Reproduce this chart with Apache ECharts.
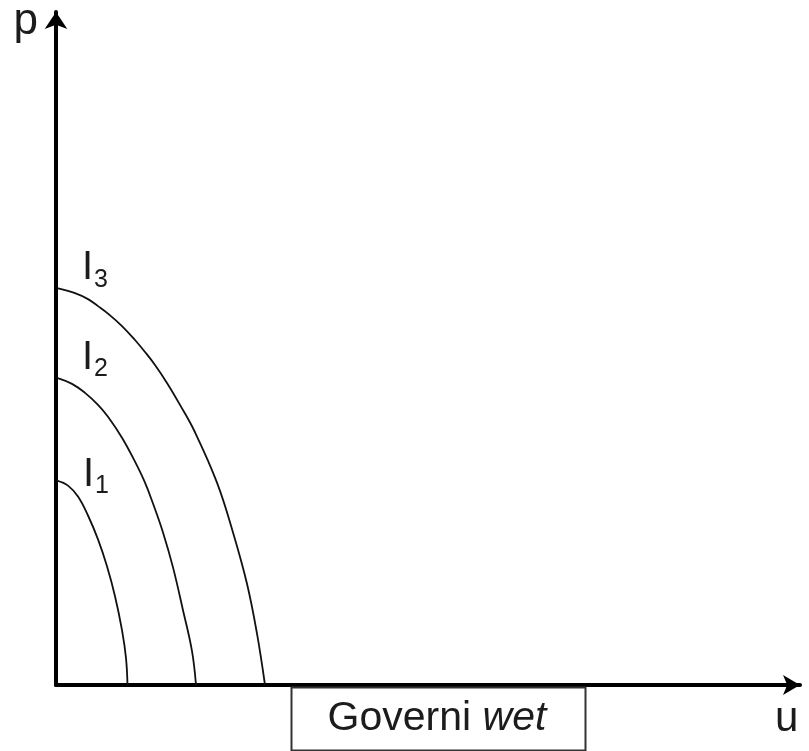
<!DOCTYPE html>
<html>
<head>
<meta charset="utf-8">
<title>Governi wet</title>
<script src="https://cdn.jsdelivr.net/npm/echarts@6/dist/echarts.min.js"></script>
<style>
    html, body { margin: 0; padding: 0; background: #fff; }
    #chart { width: 809px; height: 751px; }
</style>
</head>
<body>
<div id="chart"></div>
<script>
    // curve points [u, p] (axis units ~ pixels from origin)
    let curveNames = ['I1', 'I2', 'I3']
    let curveI1 = [[1, 205], [12, 200], [22, 189], [32, 170], [42, 146], [51, 119], [59, 89], [66, 55], [70, 27], [71.5, 0]]
    let curveI2 = [[1, 308], [16, 302], [29, 293], [42, 281], [52, 269], [66, 248], [79, 224], [89, 203], [97, 182], [107, 153], [117, 118], [127, 75], [136, 34], [140, 0]]
    let curveI3 = [[1, 398], [19, 393], [32, 387], [42, 380], [52, 372.5], [66, 360], [79, 346], [89, 334], [99, 321], [111, 303], [124, 281], [139, 253.5], [161, 203], [177, 153], [191, 101.5], [201, 51.5], [209, 0]]
    let xMax = 744
    let yMax = 675
    let boxText = '{n|Governi }{i|wet}'

    let font = "'Liberation Sans', Arial, sans-serif"
    let ink = '#1c1c1c'

    let chart = echarts.init(document.getElementById('chart'))

    function makeSeries(name, pts, labelPos) {
        let data = pts.map(function (p, i) {
            if (i > 0) return p
            return {
                value: p,
                label: {
                    show: true,
                    position: labelPos,
                    align: 'left',
                    verticalAlign: 'top',
                    formatter: '{a|I}{b|' + name.slice(1) + '}',
                    rich: {
                        a: { fontSize: 40, lineHeight: 40, fontFamily: font, color: ink },
                        b: { fontSize: 25, lineHeight: 14, verticalAlign: 'top', padding: [19, 0, 0, 1], fontFamily: font, color: ink }
                    }
                }
            }
        })
        return {
            name: name,
            type: 'line',
            smooth: 0.4,
            showSymbol: true,
            symbol: 'circle',
            symbolSize: 0,
            lineStyle: { color: '#111', width: 1.8 },
            itemStyle: { color: '#111' },
            label: { show: false },
            data: data
        }
    }

    let option = {
        animation: false,
        backgroundColor: '#fff',
        grid: { left: 56, right: 9, top: 10, bottom: 66, containLabel: false },
        xAxis: {
            type: 'value',
            min: 0,
            max: xMax,
            name: 'u',
            nameLocation: 'end',
            nameGap: -25,
            nameTextStyle: {
                fontSize: 42, lineHeight: 42, fontFamily: font, color: ink,
                align: 'left', verticalAlign: 'top', padding: [13, 0, 0, 0]
            },
            axisLine: {
                show: true,
                symbol: ['none', 'arrow'],
                symbolSize: [15, 17],
                lineStyle: { color: '#000', width: 4 }
            },
            axisTick: { show: false },
            axisLabel: { show: false },
            splitLine: { show: false }
        },
        yAxis: {
            type: 'value',
            min: 0,
            max: yMax,
            name: 'p',
            nameLocation: 'end',
            nameGap: -32,
            nameTextStyle: {
                fontSize: 44, lineHeight: 44, fontFamily: font, color: ink,
                align: 'right', verticalAlign: 'bottom', padding: [0, 18, 0, 0]
            },
            axisLine: {
                show: true,
                symbol: ['none', 'arrow'],
                symbolSize: [17, 17],
                lineStyle: { color: '#000', width: 4 }
            },
            axisTick: { show: false },
            axisLabel: { show: false },
            splitLine: { show: false }
        },
        graphic: [{
            type: 'rect',
            left: 289,
            top: 685,
            shape: { width: 294, height: 63 },
            style: { fill: 'none', stroke: '#333', lineWidth: 2 },
            z: 1
        }, {
            type: 'text',
            x: 437,
            y: 719,
            style: {
                text: boxText,
                align: 'center',
                verticalAlign: 'middle',
                rich: {
                    n: { fontSize: 41, fontFamily: font, fill: ink },
                    i: { fontSize: 41, fontFamily: font, fontStyle: 'italic', fill: ink }
                }
            },
            z: 2
        }],
        series: [
            makeSeries(curveNames[0], curveI1, [26, -26]),
            makeSeries(curveNames[1], curveI2, [25, -40]),
            makeSeries(curveNames[2], curveI3, [25, -40])
        ]
    }
    chart.setOption(option)
</script>
</body>
</html>
